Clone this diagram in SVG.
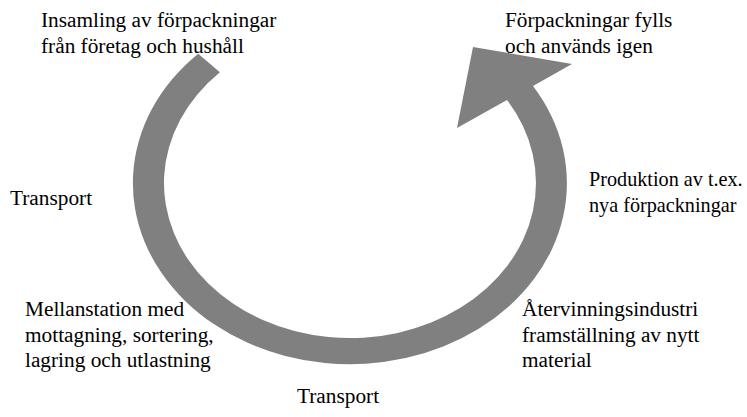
<svg xmlns="http://www.w3.org/2000/svg" width="747" height="417" viewBox="0 0 747 417">
<style>
.t{font-family:'Liberation Serif',Tinos,'Times New Roman',Times,serif;font-size:21.3px;fill:#000}
.s{font-size:20.2px}
.arrow{fill:#808080;stroke:none}
</style>
<rect width="747" height="417" fill="#fff"/>
<g id="connectors">
<path class="arrow" d="M198.2,53.7 A217 181 0 1 0 533,86 L572,64 L473,47 L457,128 L507,100 A186 155 0 1 1 219.9,72.3 Z"/>
</g>
<g class="t">
<g id="insamling"><text x="41" y="27">Insamling av förpackningar</text><text x="41" y="53">från företag och hushåll</text></g>
<g id="fylls"><text x="505" y="27">Förpackningar fylls</text><text x="505" y="53">och används igen</text></g>
<g id="transport-left"><text x="10" y="205">Transport</text></g>
<g id="produktion" class="s"><text x="589" y="186">Produktion av t.ex.</text><text x="589" y="212">nya förpackningar</text></g>
<g id="mellanstation"><text x="25" y="316">Mellanstation med</text><text x="25" y="342">mottagning, sortering,</text><text x="25" y="367">lagring och utlastning</text></g>
<g id="atervinning"><text x="522" y="316">Återvinningsindustri</text><text x="522" y="342">framställning av nytt</text><text x="522" y="367">material</text></g>
<g id="transport-bottom"><text x="297" y="403">Transport</text></g>
</g>
</svg>
